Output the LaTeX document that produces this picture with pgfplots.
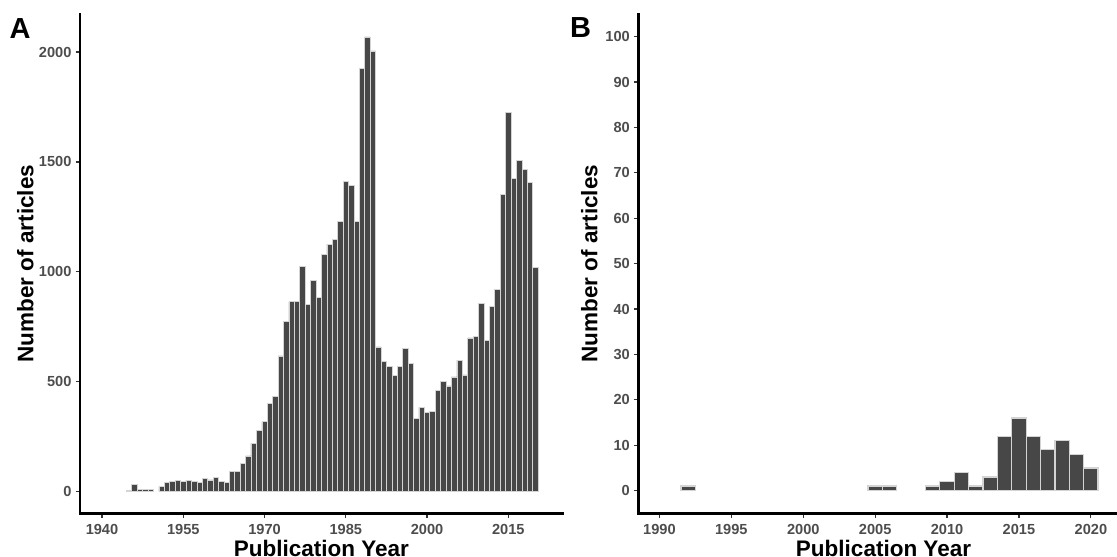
\documentclass[border=0pt]{standalone}
\usepackage{fontspec}
\setmainfont{Liberation Sans}
\usepackage{pgfplots}
\pgfplotsset{compat=1.18}
\definecolor{barfill}{HTML}{474747}
\definecolor{ticktext}{HTML}{4D4D4D}
\definecolor{tickcol}{HTML}{333333}
\definecolor{baredge}{HTML}{D4D4D4}
\pgfplotsset{
  panel/.style={
    scale only axis, anchor=south west,
    axis x line*=bottom, axis y line*=left,
    axis line style={-, black, line width=2.8pt, line cap=rect},
    tick align=outside, major tick length=4.5pt,
    tick style={tickcol, line width=1.2pt},
    /pgf/number format/assume math mode=true,
    /pgf/number format/1000 sep={},
    tick label style={font=\fontsize{14.6}{14.6}\selectfont\bfseries, text=ticktext},
    xticklabel style={yshift=-2.5pt},
    yticklabel style={xshift=-0.5pt},
    every axis y label/.style={rotate=90, anchor=base, font=\fontsize{22.5}{22.5}\selectfont\bfseries},
    every axis x label/.style={anchor=base, font=\fontsize{22.5}{22.5}\selectfont\bfseries},
    ybar, bar width=1,
  }
}
\begin{document}
\begin{tikzpicture}
\useasboundingbox (0,0) rectangle (1117pt,557pt);
\begin{axis}[panel,
  at={(80pt,43.7pt)}, width=482.7pt, height=499.3pt,
  xmin=1935.94, xmax=2025.04, ymin=-98.3, ymax=2173,
  xtick={1940,1955,1970,1985,2000,2015},
  ytick={0,500,1000,1500,2000},
  xlabel={Publication Year}, ylabel={Number of articles},
  xlabel style={at={(axis description cs:0.5,-0.0862)}},
  ylabel style={at={(axis description cs:-0.0967,0.5)}},
]
\addplot[fill=barfill, draw=baredge, line width=0.6pt] coordinates {
(1945,5) (1946,33) (1947,12) (1948,9) (1949,12)
(1951,23) (1952,42) (1953,48) (1954,51) (1955,46) (1956,51) (1957,45) (1958,41) (1959,60)
(1960,54) (1961,65) (1962,48) (1963,41) (1964,92) (1965,92) (1966,128) (1967,163) (1968,220) (1969,280)
(1970,318) (1971,403) (1972,435) (1973,618) (1974,775) (1975,864) (1976,866) (1977,1025) (1978,852) (1979,960)
(1980,885) (1981,1078) (1982,1126) (1983,1148) (1984,1230) (1985,1410) (1986,1393) (1987,1229) (1988,1927) (1989,2069)
(1990,2005) (1991,659) (1992,593) (1993,569) (1994,530) (1995,569) (1996,653) (1997,582) (1998,333) (1999,383)
(2000,359) (2001,367) (2002,459) (2003,501) (2004,481) (2005,522) (2006,599) (2007,531) (2008,700) (2009,706)
(2010,858) (2011,688) (2012,842) (2013,919) (2014,1352) (2015,1727) (2016,1425) (2017,1507) (2018,1467) (2019,1407)
(2020,1021)
};
\end{axis}
\begin{axis}[panel,
  at={(638.3pt,43.7pt)}, width=490.4pt, height=499.3pt,
  xmin=1988.53, xmax=2022.63, ymin=-5, ymax=105,
  xtick={1990,1995,2000,2005,2010,2015,2020},
  ytick={0,10,20,30,40,50,60,70,80,90,100},
  xlabel={Publication Year}, ylabel={Number of articles},
  xlabel style={at={(axis description cs:0.5,-0.0862)}},
  ylabel style={at={(axis description cs:-0.0836,0.5)}},
]
\addplot[fill=barfill, draw=baredge, line width=1.2pt] coordinates {
(1992,1) (2005,1) (2006,1) (2009,1) (2010,2) (2011,4) (2012,1) (2013,3)
(2014,12) (2015,16) (2016,12) (2017,9) (2018,11) (2019,8) (2020,5)
};
\end{axis}
\node[anchor=base west, inner sep=0pt, font=\fontsize{29}{29}\selectfont\bfseries] at (9.3pt,518.7pt) {A};
\node[anchor=base west, inner sep=0pt, font=\fontsize{29}{29}\selectfont\bfseries] at (570pt,519.7pt) {B};
\end{tikzpicture}
\end{document}
